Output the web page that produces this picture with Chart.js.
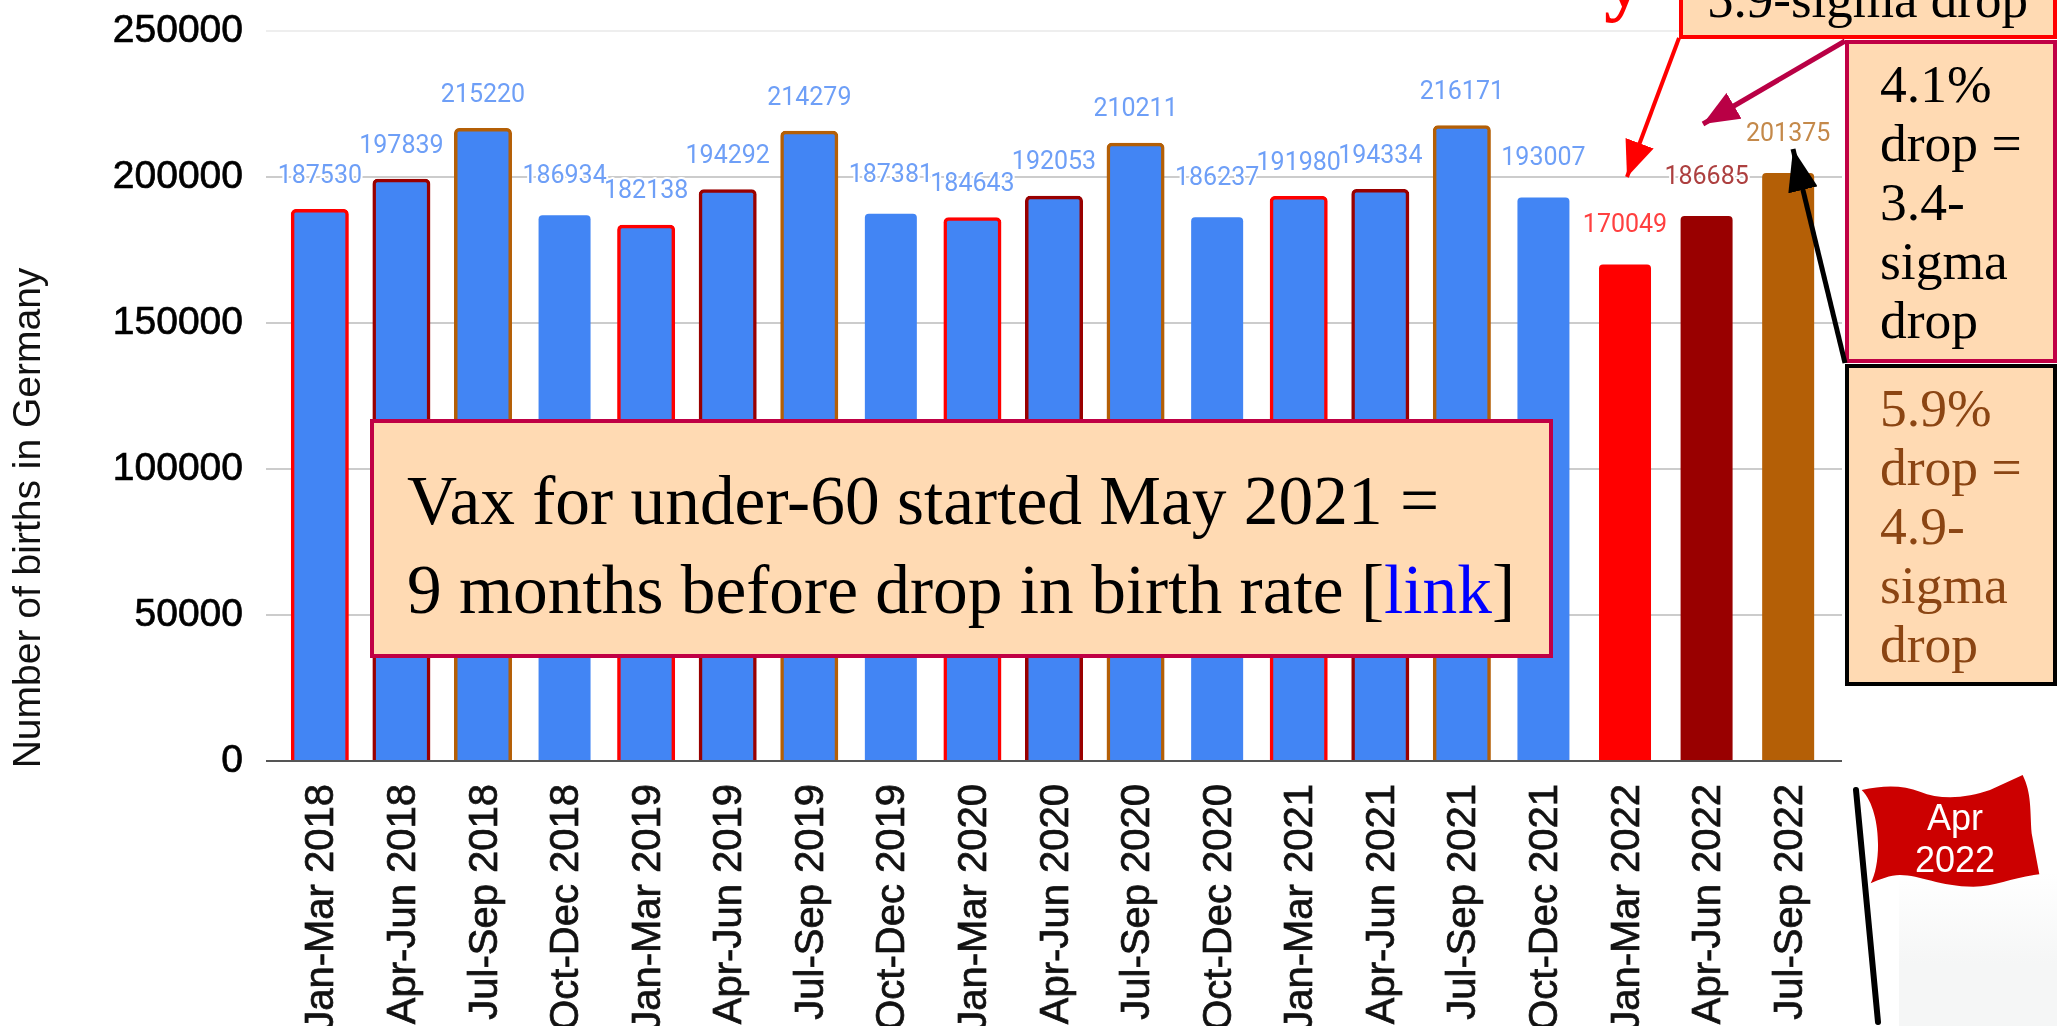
<!DOCTYPE html>
<html>
<head>
<meta charset="utf-8">
<script src="https://cdn.jsdelivr.net/npm/chart.js@4"></script>
<style>
html,body{margin:0;padding:0;background:#fff;width:2057px;height:1026px;overflow:hidden}
#chart{position:absolute;left:0;top:0}
.box{position:absolute;box-sizing:border-box;background:#ffdab3;font-family:"Liberation Serif",serif;white-space:pre;color:#000}
#fade{position:absolute;left:1899px;top:872px;width:158px;height:154px;background:linear-gradient(#ffffff,#f5f6f6 60%)}
#vax{left:370px;top:419px;width:1183px;height:239px;border:4px solid #c00045;font-size:69.4px;line-height:89px;padding:33px 0 0 33px}
#vax a{color:#0000ff;text-decoration:none}
#sig{left:1679px;top:-60px;width:378px;height:99px;border:4px solid #ff0000;font-size:53px;line-height:59px;padding:26px 0 0 24px}
#p41{left:1845px;top:40px;width:212px;height:323px;border:4px solid #c00045;font-size:53.5px;line-height:59px;padding:11px 0 0 31px}
#p59{left:1845px;top:364px;width:212px;height:322px;border:4px solid #000;font-size:53.5px;line-height:59px;padding:11px 0 0 31px;color:#8b4513}
#tail{position:absolute;left:1604px;top:-61px;font:bold 80px/80px "Liberation Serif",serif;color:#ff0000}
svg{position:absolute;left:0;top:0}
</style>
</head>
<body>
<div id="fade"></div>
<canvas id="chart" width="2057" height="1026"></canvas>
<div id="tail">y</div>
<div class="box" id="sig">5.9-sigma drop</div>
<div class="box" id="p41">4.1%
drop =
3.4-
sigma
drop</div>
<div class="box" id="p59">5.9%
drop =
4.9-
sigma
drop</div>
<div class="box" id="vax">Vax for under-60 started May 2021 =
9 months before drop in birth rate [<a href="#">link</a>]</div>
<svg width="2057" height="1026" viewBox="0 0 2057 1026">
  <defs>
    <marker id="hr" markerUnits="userSpaceOnUse" markerWidth="36" markerHeight="30" refX="36" refY="15" orient="auto"><path d="M0 0L36 15L0 30Z" fill="#ff0000"/></marker>
    <marker id="hc" markerUnits="userSpaceOnUse" markerWidth="36" markerHeight="30" refX="36" refY="15" orient="auto"><path d="M0 0L36 15L0 30Z" fill="#b90045"/></marker>
    <marker id="hk" markerUnits="userSpaceOnUse" markerWidth="42" markerHeight="30" refX="42" refY="15" orient="auto"><path d="M0 0L42 15L0 30Z" fill="#000"/></marker>
  </defs>
  <line x1="1679" y1="38" x2="1627" y2="177" stroke="#ff0000" stroke-width="4" marker-end="url(#hr)"/>
  <line x1="1845" y1="41" x2="1703" y2="124" stroke="#b90045" stroke-width="5" marker-end="url(#hc)"/>
  <line x1="1845" y1="363" x2="1793" y2="149" stroke="#000" stroke-width="5" marker-end="url(#hk)"/>
  <line x1="1856" y1="790" x2="1878" y2="1022" stroke="#000" stroke-width="6" stroke-linecap="round"/>
  <g transform="translate(1840,760) scale(0.3333)">
    <path fill="#cc0000" d="M65 90C130 75 190 75 240 95C300 120 380 115 450 90L548 45C575 100 570 150 575 220L598 343C520 350 470 380 400 380C300 380 240 345 180 345C150 345 120 358 92 370C125 310 125 150 65 90Z"/>
  </g>
  <text x="1955" y="830" text-anchor="middle" font-family="Liberation Sans" font-size="36" fill="#fff">Apr</text>
  <text x="1955" y="872" text-anchor="middle" font-family="Liberation Sans" font-size="36" fill="#fff">2022</text>
</svg>
<script>
const categories = ["Jan-Mar 2018","Apr-Jun 2018","Jul-Sep 2018","Oct-Dec 2018","Jan-Mar 2019","Apr-Jun 2019","Jul-Sep 2019","Oct-Dec 2019","Jan-Mar 2020","Apr-Jun 2020","Jul-Sep 2020","Oct-Dec 2020","Jan-Mar 2021","Apr-Jun 2021","Jul-Sep 2021","Oct-Dec 2021","Jan-Mar 2022","Apr-Jun 2022","Jul-Sep 2022"];
const births = [187530,197839,215220,186934,182138,194292,214279,187381,184643,192053,210211,186237,191980,194334,216171,193007,170049,186685,201375];
const fillColors = ["#4285f4","#4285f4","#4285f4","#4285f4","#4285f4","#4285f4","#4285f4","#4285f4","#4285f4","#4285f4","#4285f4","#4285f4","#4285f4","#4285f4","#4285f4","#4285f4","#ff0000","#990000","#b45f06"];
const outlineColors = ["#ff0000","#990000","#b45f06",null,"#ff0000","#990000","#b45f06",null,"#ff0000","#990000","#b45f06",null,"#ff0000","#990000","#b45f06",null,null,null,null];
const labelColors = ["#6e9ff7","#6e9ff7","#6e9ff7","#6e9ff7","#6e9ff7","#6e9ff7","#6e9ff7","#6e9ff7","#6e9ff7","#6e9ff7","#6e9ff7","#6e9ff7","#6e9ff7","#6e9ff7","#6e9ff7","#6e9ff7","#ff4040","#ad4040","#c4894a"];
const yTicks = [0,50000,100000,150000,200000,250000];
const yTitle = "Number of births in Germany";

const idx = categories.map((_, i) => i);
const outlined = idx.filter(i => outlineColors[i]);
const plain = idx.filter(i => !outlineColors[i]);

const valueLabels = {
  id: "valueLabels",
  afterDatasetsDraw(chart) {
    const { ctx, scales: { x, y } } = chart;
    ctx.save();
    ctx.font = '25px Roboto';
    ctx.textAlign = "center";
    ctx.textBaseline = "middle";
    ctx.lineJoin = "round";
    births.forEach((v, i) => {
      const px = x.getPixelForValue(i), py = y.getPixelForValue(v) - (outlineColors[i] ? 37 : 38.5);
      ctx.strokeStyle = "#fff"; ctx.lineWidth = 4;
      ctx.strokeText(String(v), px, py);
      ctx.fillStyle = labelColors[i];
      ctx.fillText(String(v), px, py);
    });
    ctx.restore();
  }
};
const axisTitle = {
  id: "axisTitle",
  afterDraw(chart) {
    const { ctx } = chart;
    ctx.save();
    ctx.translate(29, 518);
    ctx.rotate(-Math.PI / 2);
    ctx.font = '39px "Liberation Sans"';
    ctx.fillStyle = "#111";
    ctx.textAlign = "center";
    ctx.textBaseline = "middle";
    ctx.fillText(yTitle, 0, 0);
    ctx.restore();
  }
};

new Chart(document.getElementById("chart"), {
  type: "bar",
  plugins: [valueLabels, axisTitle],
  data: {
    datasets: [
      {
        label: "Births (outlined)",
        data: outlined.map(i => ({ x: i, y: births[i] })),
        backgroundColor: outlined.map(i => fillColors[i]),
        borderColor: outlined.map(i => outlineColors[i]),
        borderWidth: 3.5,
        borderSkipped: "bottom",
        borderRadius: { topLeft: 5, topRight: 5 },
        barThickness: 49,
        inflateAmount: 4.5,
        grouped: false
      },
      {
        label: "Births",
        data: plain.map(i => ({ x: i, y: births[i] })),
        backgroundColor: plain.map(i => fillColors[i]),
        borderWidth: 0,
        borderRadius: { topLeft: 4, topRight: 4 },
        barThickness: 52,
        inflateAmount: 0,
        grouped: false
      }
    ]
  },
  options: {
    responsive: false,
    animation: false,
    layout: { padding: { top: 31, right: 215, left: 0, bottom: 0 } },
    plugins: { legend: { display: false }, tooltip: { enabled: false }, title: { display: false } },
    scales: {
      x: {
        type: "linear",
        min: -0.66,
        max: 18.66,
        offset: false,
        afterBuildTicks: s => { s.ticks = idx.map(i => ({ value: i })); },
        afterFit: s => { s.height = 265; },
        grid: { display: false, drawTicks: false },
        border: { display: false },
        ticks: {
          autoSkip: false, maxRotation: 90, minRotation: 90, padding: 23, labelOffset: 2.5,
          font: { family: "Liberation Sans", size: 40 }, color: "#111",
          textStrokeWidth: 0.7, textStrokeColor: "#111",
          callback: v => categories[v]
        }
      },
      y: {
        min: 0,
        max: 250000,
        afterBuildTicks: s => { s.ticks = yTicks.map(v => ({ value: v })); },
        afterFit: s => { s.width = 266; s.paddingTop = 0; s.paddingBottom = 0; },
        grid: {
          drawTicks: false, lineWidth: 2,
          color: c => c.tick.value === 0 ? "#555555" : c.tick.value === 250000 ? "#eeeeee" : "#cccccc"
        },
        border: { display: false },
        ticks: {
          padding: 23,
          font: { family: "Liberation Sans", size: 39 }, color: "#000",
          textStrokeWidth: 0.7, textStrokeColor: "#000",
          callback: v => String(v)
        }
      }
    }
  }
});
</script>
</body>
</html>
